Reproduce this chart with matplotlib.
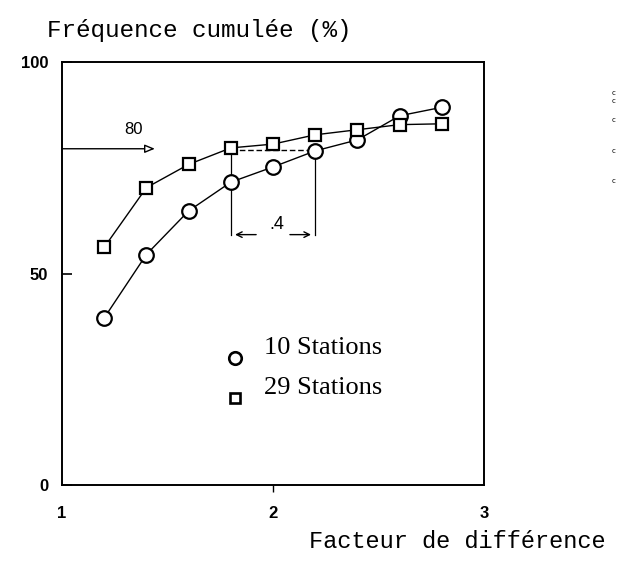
import numpy as np
import matplotlib
matplotlib.use("Agg")
import matplotlib.pyplot as plt


# --- Data ---
facteur = [1.2, 1.4, 1.6, 1.8, 2.0, 2.2, 2.4, 2.6, 2.8]
freq_10 = [39.5, 54.5, 64.8, 71.6, 75.2, 79.0, 81.6, 87.3, 89.3]   # 10 stations
freq_29 = [56.2, 70.3, 75.8, 79.7, 80.6, 82.8, 84.0, 85.2, 85.4]   # 29 stations

x_ticks = [1, 2, 3]
y_ticks = [0, 50, 100]
ref_level = 80          # arrow "80"
ecart = (1.8, 2.2)      # ".4" span

mono = "Liberation Mono"
sans = "Liberation Sans"
serif = "Liberation Serif"

fig = plt.figure(figsize=(6.18, 5.64), dpi=100)
ax = fig.add_axes([0.1003, 0.140, 0.683, 0.750])

# --- Curves ---
ax.plot(facteur, freq_10, color="black", lw=1.0, marker="o", ms=10.5,
        mfc="white", mec="black", mew=1.6, zorder=3)
ax.plot(facteur, freq_29, color="black", lw=1.0, marker="s", ms=8.5,
        mfc="white", mec="black", mew=1.6, zorder=4)

# dashed link between the two 80 % points
ax.plot([ecart[0], ecart[1]], [79.2, 79.2], color="black", lw=1.0,
        ls=(0, (4, 2)), zorder=2)
# vertical guides
ax.plot([ecart[0], ecart[0]], [freq_29[3], 59.2], color="black", lw=0.9, zorder=2)
ax.plot([ecart[1], ecart[1]], [freq_10[5], 59.2], color="black", lw=0.9, zorder=2)

# double arrow with ".4"
ax.annotate("", xy=(ecart[0] + 0.02, 59.2), xytext=(1.92, 59.2),
            arrowprops=dict(arrowstyle="->", lw=1.0, color="black",
                            shrinkA=0, shrinkB=0))
ax.annotate("", xy=(ecart[1] - 0.02, 59.2), xytext=(2.08, 59.2),
            arrowprops=dict(arrowstyle="->", lw=1.0, color="black",
                            shrinkA=0, shrinkB=0))
ax.text(2.02, 59.6, ".4", fontsize=13, family=sans, ha="center", va="bottom")

# arrow "80"
ax.annotate("", xy=(1.44, ref_level - 0.5), xytext=(1.0, ref_level - 0.5),
            arrowprops=dict(arrowstyle="-|>,head_length=0.6,head_width=0.25",
                            lw=1.0, fc="white", ec="black",
                            shrinkA=0, shrinkB=0))
ax.text(1.34, 82.2, str(ref_level), fontsize=12, family=sans,
        ha="center", va="bottom")

# legend drawn as in the original
ax.plot([1.82], [30.0], marker="o", ms=9, mfc="white", mec="black", mew=1.9,
        ls="none", clip_on=False)
ax.plot([1.82], [20.6], marker="s", ms=7.5, mfc="white", mec="black", mew=1.9,
        ls="none", clip_on=False)
ax.text(1.955, 32.4, "10 Stations", fontsize=19, family=serif, va="center")
ax.text(1.955, 22.9, "29 Stations", fontsize=19, family=serif, va="center")

# --- Axes ---
ax.set_xlim(1, 3)
ax.set_ylim(0, 100)
ax.set_xticks(x_ticks)
ax.set_yticks(y_ticks)
ax.set_xticklabels([str(v) for v in x_ticks], family=sans, fontsize=12,
                   fontweight="bold")
ax.set_yticklabels([str(v) for v in y_ticks], family=sans, fontsize=12,
                   fontweight="bold")
ax.tick_params(axis="x", direction="out", length=5, width=1.0, pad=10)
ax.tick_params(axis="y", direction="in", length=7, width=1.2, pad=10)
for t in (ax.xaxis.get_major_ticks()[0], ax.xaxis.get_major_ticks()[-1]):
    t.tick1line.set_visible(False)
for s in ax.spines.values():
    s.set_linewidth(1.4)

fig.text(47 / 618, 1 - 30 / 564, "Fréquence cumulée (%)", family=mono,
         fontsize=17.5, ha="left", va="center")
fig.text(606 / 618, 1 - 541 / 564, "Facteur de différence", family=mono,
         fontsize=17, ha="right", va="center")

# scan marks at the right edge
for yy in [93, 101, 120, 151, 181]:
    fig.text(616 / 618, 1 - yy / 564, "c", fontsize=5, ha="right", va="center")

fig.savefig("out.png", dpi=100)
